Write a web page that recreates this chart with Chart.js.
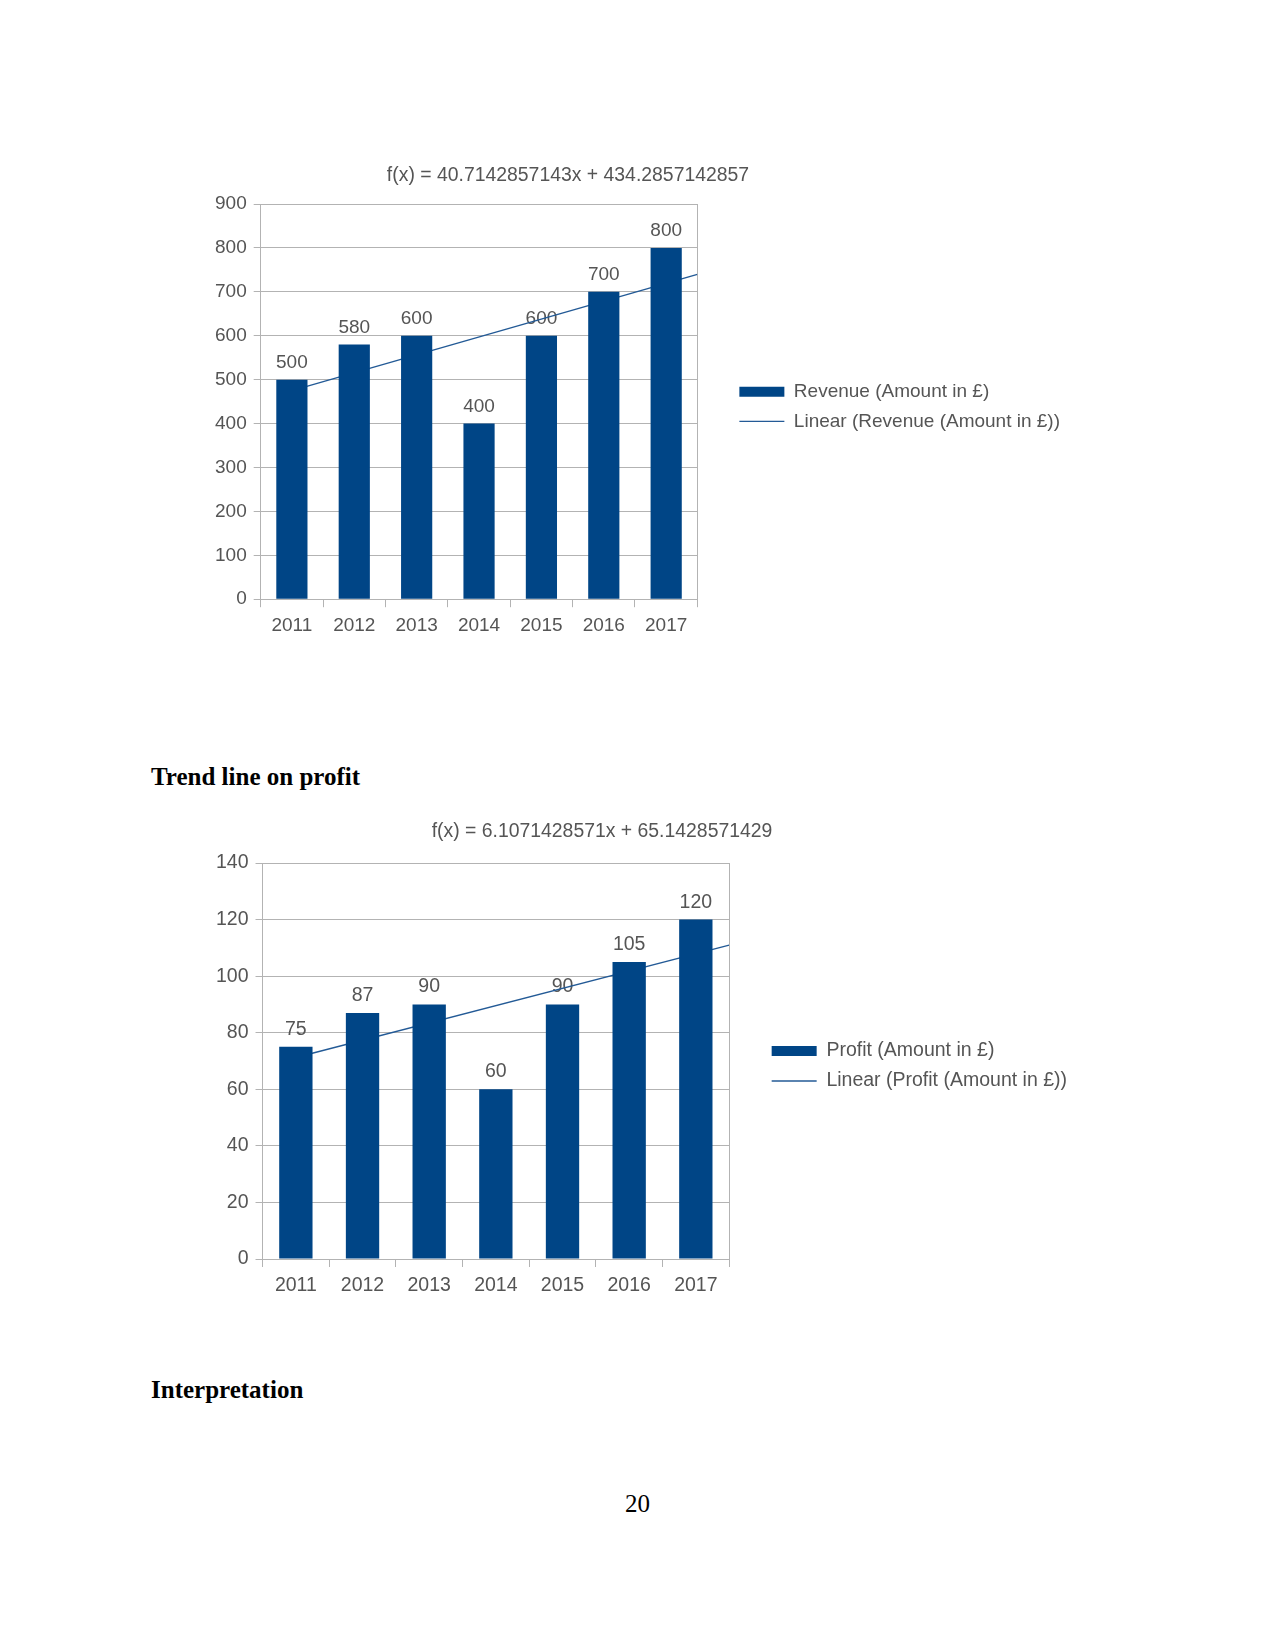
<!DOCTYPE html>
<html>
<head>
<meta charset="utf-8">
<script src="https://cdn.jsdelivr.net/npm/chart.js@4.4.1/dist/chart.umd.min.js"></script>
<style>
html,body{margin:0;padding:0;background:#fff;}
body{width:1275px;height:1650px;position:relative;overflow:hidden;}
.abs{position:absolute;white-space:nowrap;color:#000;}
.h{font-family:"Liberation Serif","Times New Roman",serif;font-weight:bold;font-size:25px;line-height:25px;}
canvas{position:absolute;}
</style>
</head>
<body>
<canvas id="c1" width="870" height="500" style="left:200px;top:150px"></canvas>
<div class="abs h" style="left:151px;top:764px">Trend line on profit</div>
<canvas id="c2" width="877" height="500" style="left:200px;top:808px"></canvas>
<div class="abs h" style="left:151px;top:1377px">Interpretation</div>
<div class="abs" style="left:0;width:1275px;text-align:center;top:1491px;font-family:'Liberation Serif',serif;font-size:25px;line-height:25px">20</div>
<script>
// ---- data ----
const years = ['2011', '2012', '2013', '2014', '2015', '2016', '2017'];
const revenue = [500, 580, 600, 400, 600, 700, 800];
const profit = [75, 87, 90, 60, 90, 105, 120];
const revenueTicks = [0, 100, 200, 300, 400, 500, 600, 700, 800, 900];
const profitTicks = [0, 20, 40, 60, 80, 100, 120, 140];
// regression coefficients as printed on the charts: [slope, intercept]
const revenueFit = [40.7142857143, 434.2857142857];
const profitFit = [6.1071428571, 65.1428571429];
const revenueEquation = 'f(x) = 40.7142857143x + 434.2857142857';
const profitEquation = 'f(x) = 6.1071428571x + 65.1428571429';
const revenueLegend = ['Revenue (Amount in £)', 'Linear (Revenue (Amount in £))'];
const profitLegend = ['Profit (Amount in £)', 'Linear (Profit (Amount in £))'];
// trend line runs from the first category centre to the right edge of the plot
const trendRange = [1, 7.5];

// ---- styles ----
const BAR = '#004586';
const LINE = '#235a96';
const GRID = '#b3b3b3';
const TXT = '#555555';
const FAMILY = '"Liberation Sans", Arial, sans-serif';

const chartDecor = {
  id: 'chartDecor',
  beforeDatasetsDraw(chart, args, o) {
    const ctx = chart.ctx;
    const a = chart.chartArea;
    ctx.save();
    // right frame of plot area
    ctx.strokeStyle = GRID;
    ctx.lineWidth = 1;
    const rx = Math.round(a.right) + 0.5;
    ctx.beginPath();
    ctx.moveTo(rx, a.top);
    ctx.lineTo(rx, a.bottom);
    ctx.stroke();
    // value labels above bars
    const meta = chart.getDatasetMeta(0);
    const vals = chart.data.datasets[0].data;
    ctx.fillStyle = TXT;
    ctx.font = o.size + 'px ' + FAMILY;
    ctx.textAlign = 'center';
    ctx.textBaseline = 'alphabetic';
    meta.data.forEach((bar, i) => {
      ctx.fillText(String(vals[i]), bar.x, bar.y - o.gap);
    });
    // regression equation
    ctx.font = o.eqSize + 'px ' + FAMILY;
    ctx.textBaseline = 'middle';
    ctx.fillText(o.equation, o.eqX, o.eqY);
    ctx.restore();
  }
};

function makeChart(id, values, ticks, fit, legendText, equation, opt) {
  const trend = trendRange.map(x => ({ x: x, y: fit[0] * x + fit[1] }));
  const font = { family: FAMILY, size: opt.size };
  return new Chart(document.getElementById(id), {
    data: {
      labels: years,
      datasets: [
        {
          type: 'bar', label: legendText[0], data: values,
          backgroundColor: BAR, borderWidth: 0, grouped: false,
          barPercentage: 0.5, categoryPercentage: 1,
          xAxisID: 'x', yAxisID: 'y', order: 1
        },
        {
          type: 'line', label: legendText[1], data: trend,
          borderColor: LINE, borderWidth: 1.4, pointRadius: 0, fill: false, tension: 0,
          xAxisID: 'xt', yAxisID: 'y', order: 2
        }
      ]
    },
    options: {
      responsive: false,
      animation: false,
      events: [],
      layout: { padding: opt.padding },
      scales: {
        x: {
          type: 'category', offset: true,
          grid: { offset: true, drawOnChartArea: false, tickLength: 8, color: GRID },
          border: { color: GRID },
          ticks: { color: TXT, font: font, padding: 7, maxRotation: 0 }
        },
        xt: { type: 'linear', display: false, min: 0.5, max: years.length + 0.5 },
        y: {
          type: 'linear', min: ticks[0], max: ticks[ticks.length - 1],
          ticks: { stepSize: ticks[1] - ticks[0], color: TXT, font: font, padding: 7 },
          grid: { color: GRID, tickLength: 7 },
          border: { color: GRID }
        },
        sp: {
          type: 'linear', position: 'right', display: true,
          grid: { display: false }, border: { display: false }, ticks: { display: false },
          afterFit(s) { s.width = opt.spacer; }
        }
      },
      plugins: {
        tooltip: { enabled: false },
        title: { display: false },
        legend: {
          position: 'right', fullSize: false, align: 'center', maxWidth: 600,
          title: { display: true, text: '', font: { size: 5 }, padding: 2 },
          labels: {
            usePointStyle: true, pointStyleWidth: 45, boxWidth: 45, boxHeight: 10,
            padding: 10.5, color: TXT, font: font,
            generateLabels(chart) {
              return chart.data.datasets.map((ds, i) => ({
                text: ds.label,
                fillStyle: i === 0 ? BAR : 'rgba(0,0,0,0)',
                strokeStyle: i === 0 ? BAR : LINE,
                lineWidth: i === 0 ? 0 : 1.4,
                pointStyle: i === 0 ? 'rect' : 'line',
                fontColor: TXT,
                hidden: false,
                datasetIndex: i
              }));
            }
          }
        },
        chartDecor: { size: opt.size, gap: 12, eqSize: opt.eqSize, equation: equation, eqX: opt.eqX, eqY: opt.eqY }
      }
    },
    plugins: [chartDecor]
  });
}

makeChart('c1', revenue, revenueTicks, revenueFit, revenueLegend, revenueEquation, {
  size: 19, eqSize: 19.4, eqX: 368, eqY: 26, spacer: 31.5,
  padding: { top: 54, left: 8, bottom: 6, right: 0 }
});
makeChart('c2', profit, profitTicks, profitFit, profitLegend, profitEquation, {
  size: 19.5, eqSize: 19.4, eqX: 402, eqY: 24, spacer: 32,
  padding: { top: 55, left: 9, bottom: 3.6, right: 0 }
});
</script>
</body>
</html>
